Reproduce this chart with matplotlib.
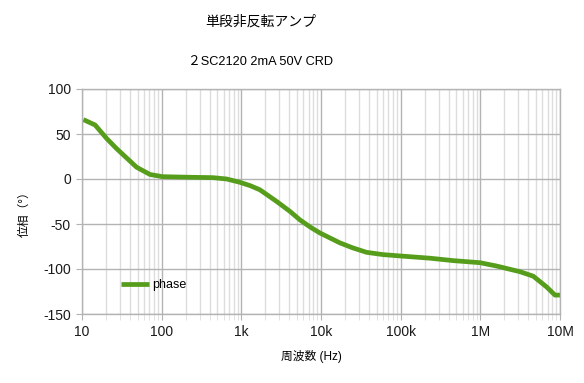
import matplotlib
matplotlib.use("Agg")
import matplotlib.pyplot as plt
from matplotlib.ticker import LogLocator, FixedLocator, FixedFormatter, NullFormatter

plt.rcParams['font.family'] = ['Liberation Sans', 'Noto Sans CJK JP', 'DejaVu Sans']
plt.rcParams['axes.unicode_minus'] = False

freq = [10.4, 14.6, 20.4, 27, 34.7, 48.6, 71.5, 102, 206, 440, 655, 962, 1300, 1710,
        2780, 4080, 5450, 7500, 9700, 17300, 25000, 37400, 60000, 98000, 233000,
        457000, 989000, 1.6e6, 3.14e6, 4.62e6, 6.8e6, 8.65e6, 1.0e7]
phase = [66, 60, 45, 34, 25, 13, 5, 2.6, 2, 1.5, 0, -3.7, -7.5, -12,
         -25, -36, -45.5, -54, -60, -71, -76.5, -81.5, -84, -85.5, -88,
         -90.7, -93, -96.7, -103, -108, -120, -129, -129]

xticks = [10, 100, 1e3, 1e4, 1e5, 1e6, 1e7]
xticklabels = ['10', '100', '1k', '10k', '100k', '1M', '10M']
yticks = [-150, -100, -50, 0, 50, 100]

title = '単段非反転アンプ'
subtitle = '２SC2120 2mA 50V CRD'
xlabel = '周波数 (Hz)'
ylabel = '位相（°）'
series_name = 'phase'

W, H = 584, 383
fig = plt.figure(figsize=(W / 100, H / 100), dpi=100)
ax = fig.add_axes([82 / W, (H - 314) / H, (560 - 82) / W, (314 - 89) / H])

ax.plot(freq, phase, color='#579d1c', lw=3.4, label=series_name, solid_capstyle='butt')
ax.set_xscale('log')
ax.set_xlim(10, 1e7)
ax.set_ylim(-150, 100)

ax.xaxis.set_major_locator(FixedLocator(xticks))
ax.xaxis.set_major_formatter(FixedFormatter(xticklabels))
ax.xaxis.set_minor_locator(LogLocator(base=10, subs=range(2, 10), numticks=20))
ax.xaxis.set_minor_formatter(NullFormatter())
ax.set_yticks(yticks)

ax.grid(True, which='major', color='#b3b3b3', lw=1.0)
ax.grid(True, which='minor', axis='x', color='#dddddd', lw=1.0)
ax.set_axisbelow(True)
for s in ax.spines.values():
    s.set_color('#b3b3b3')
    s.set_linewidth(1.0)

ax.tick_params(which='major', length=4, color='#b3b3b3', labelsize=10, labelcolor='#1a1a1a', pad=4)
ax.tick_params(which='minor', length=4, color='#dddddd')

fig.text(311 / W, 1 - 356 / H, xlabel, ha='center', va='center', fontsize=8.5)
fig.text(25 / W, 1 - 211 / H, ylabel, ha='center', va='center', fontsize=8.5, rotation=90)

fig.text(261 / W, 1 - 22 / H, title, ha='center', va='center', fontsize=10)
fig.text(261 / W, 1 - 62 / H, subtitle, ha='center', va='center', fontsize=9.2)

leg = ax.legend(loc='center left', bbox_to_anchor=((121 - 82) / (560 - 82), (314 - 285) / (314 - 89)),
                frameon=False, borderpad=0, borderaxespad=0,
                handlelength=2.2, handletextpad=0.3, fontsize=9)

fig.savefig('out.png', dpi=100)
